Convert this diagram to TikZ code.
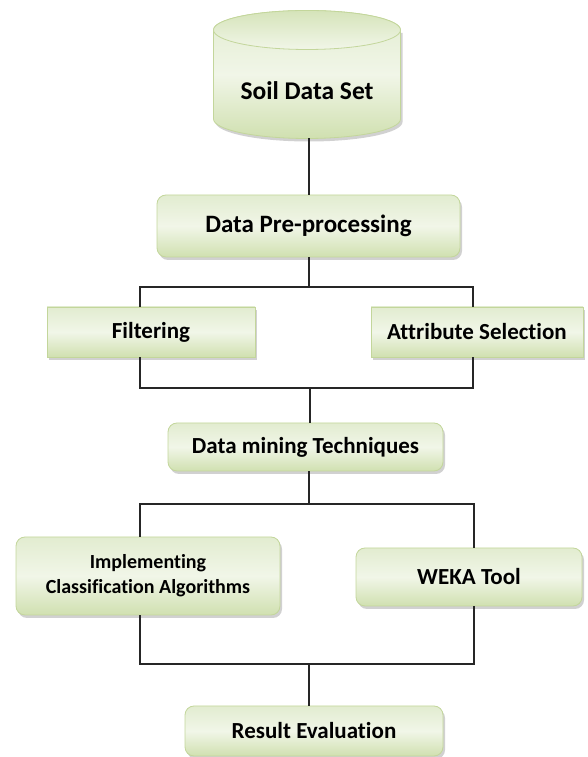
\documentclass[tikz,border=0pt]{standalone}
\usepackage{fontspec}
\setmainfont{Carlito}[Ligatures=NoCommon]
\usetikzlibrary{shadows}
\definecolor{boxtop}{HTML}{E2ECD0}
\definecolor{boxmid}{HTML}{F1F6E8}
\definecolor{boxbot}{HTML}{D0E0B0}
\definecolor{boxline}{HTML}{C3D69B}
\definecolor{linkgray}{HTML}{262626}
\begin{document}
\begin{tikzpicture}[x=1pt, y=1pt,
    stepbox/.style={draw=boxline, line width=0.8pt, top color=boxtop, bottom color=boxbot, middle color=boxmid,
      inner sep=0pt, font=\bfseries\fontsize{23}{26}\selectfont,
      drop shadow={shadow xshift=2pt, shadow yshift=-3pt, fill=black!45, opacity=.4}},
    roundbox/.style={stepbox, rounded corners=9pt},
    link/.style={draw=linkgray, line width=1.3pt}]
    \useasboundingbox (0,0) rectangle (587,757);
    % soil data set cylinder
    \fill[black!45, opacity=.4, xshift=2pt, yshift=-3pt] (213.5,727) -- (213.5,638)
      arc[start angle=180, end angle=360, x radius=93.5, y radius=19.5] -- (400.5,727) -- cycle;
    \draw[draw=boxline, line width=0.8pt, top color=boxtop, bottom color=boxbot, middle color=boxmid]
      (213.5,727) -- (213.5,638) arc[start angle=180, end angle=360, x radius=93.5, y radius=19.5]
      -- (400.5,727) arc[start angle=0, end angle=180, x radius=93.5, y radius=19.5] -- cycle;
    \draw[draw=boxline, line width=0.8pt, top color=boxbot!70!boxtop, bottom color=boxmid]
      (307,727) ellipse [x radius=93.5, y radius=19.5];
    \node[font=\bfseries\fontsize{25.5}{28}\selectfont] (soil) at (307,666) {Soil Data Set};
    \coordinate (soilbot) at (309,618.5);
    % steps
    \node[roundbox, minimum width=303pt, minimum height=62pt, font=\bfseries\fontsize{25}{28}\selectfont] (pre) at (308.5,531) {Data Pre-processing};
    \node[stepbox, minimum width=208pt, minimum height=50pt] (filt) at (151,425) {Filtering};
    \node[stepbox, minimum width=212pt, minimum height=50pt] (attr) at (477,425) {Attribute Selection};
    \node[roundbox, minimum width=275pt, minimum height=48pt] (mine) at (305.5,310) {Data mining Techniques};
    \node[roundbox, minimum width=264pt, minimum height=78pt, align=center, font=\bfseries\fontsize{20}{25}\selectfont] (impl) at (148,181) {Implementing\\Classification Algorithms};
    \node[roundbox, minimum width=226pt, minimum height=58pt] (weka) at (469,180) {WEKA Tool};
    \node[roundbox, minimum width=258pt, minimum height=50pt] (res) at (314,26) {Result Evaluation};
    % junctions
    \coordinate (ja) at (309,470); \coordinate (jal) at (140,470); \coordinate (jar) at (473,470);
    \coordinate (jb) at (310,369); \coordinate (jbl) at (140,369); \coordinate (jbr) at (473,369);
    \coordinate (jc) at (309,253); \coordinate (jcl) at (140,253); \coordinate (jcr) at (474,253);
    \coordinate (jd) at (309,93); \coordinate (jdl) at (140,93); \coordinate (jdr) at (474,93);
    % connectors
    \draw[link] (soilbot) -- (pre.north -| soilbot);
    \draw[link] (pre.south -| ja) -- (ja);
    \draw[link] (filt.north -| jal) |- (jar) -- (attr.north -| jar);
    \draw[link] (filt.south -| jbl) |- (jbr) -- (attr.south -| jbr);
    \draw[link] (jb) -- (mine.north -| jb);
    \draw[link] (mine.south -| jc) -- (jc);
    \draw[link] (impl.north -| jcl) |- (jcr) -- (weka.north -| jcr);
    \draw[link] (impl.south -| jdl) |- (jdr) -- (weka.south -| jdr);
    \draw[link] (jd) -- (res.north -| jd);
\end{tikzpicture}
\end{document}
